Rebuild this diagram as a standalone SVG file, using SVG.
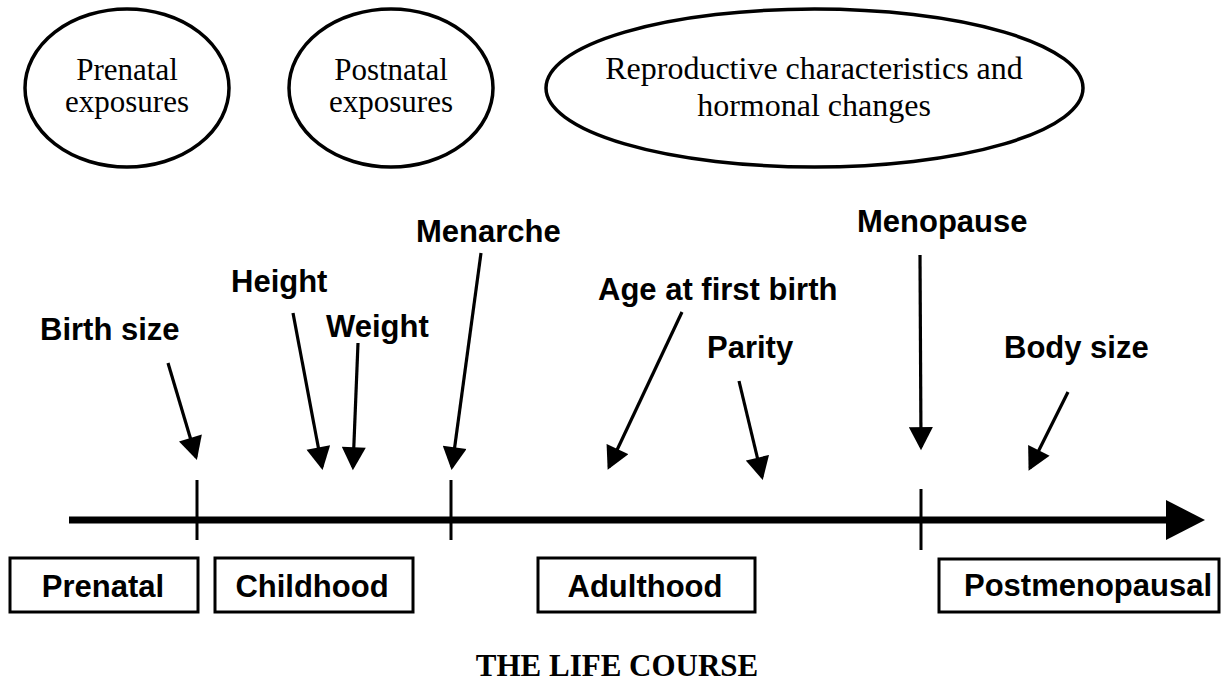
<svg xmlns="http://www.w3.org/2000/svg" width="1224" height="684" viewBox="0 0 1224 684">
<style>
.oval{fill:#fff;stroke:#000;stroke-width:3.5}
.serif{font-family:"Liberation Serif","Times New Roman",serif;font-size:31px;fill:#000;text-anchor:middle}
.lbl{font-family:"Liberation Sans",Arial,sans-serif;font-weight:bold;font-size:31px;fill:#000}
.box{fill:#fff;stroke:#000;stroke-width:3}
.boxt{font-family:"Liberation Sans",Arial,sans-serif;font-weight:bold;font-size:31px;fill:#000;text-anchor:middle}
.arr{stroke:#000;stroke-width:3.2;fill:none;marker-end:url(#ah)}
.tick{stroke:#000;stroke-width:3}
.title{font-family:"Liberation Serif","Times New Roman",serif;font-weight:bold;font-size:31px;fill:#000;text-anchor:middle}
</style>
<defs>
<marker id="ah" markerUnits="userSpaceOnUse" markerWidth="24" markerHeight="24" viewBox="0 0 22 23" refX="19" refY="11.5" orient="auto">
<path d="M0,0 L22,11.5 L0,23 Z" fill="#000"/>
</marker>
</defs>
<rect width="1224" height="684" fill="#fff"/>

<g id="prenatal-exposures">
<ellipse class="oval" cx="127" cy="88" rx="102" ry="79"/>
<text class="serif" x="127" y="80">Prenatal</text>
<text class="serif" x="127" y="112">exposures</text>
</g>
<g id="postnatal-exposures">
<ellipse class="oval" cx="391" cy="88" rx="102" ry="79"/>
<text class="serif" x="391" y="80">Postnatal</text>
<text class="serif" x="391" y="112">exposures</text>
</g>
<g id="reproductive">
<ellipse class="oval" cx="814.5" cy="88" rx="268.5" ry="79"/>
<text class="serif" x="814" y="79" style="font-size:32px">Reproductive characteristics and</text>
<text class="serif" x="814" y="116" style="font-size:32px">hormonal changes</text>
</g>

<g id="timeline">
<line x1="69" y1="520" x2="1168" y2="520" stroke="#000" stroke-width="7"/>
<polygon points="1166,500 1205,520 1166,540" fill="#000"/>
<line class="tick" x1="197" y1="480" x2="197" y2="540"/>
<line class="tick" x1="451" y1="480" x2="451" y2="540"/>
<line class="tick" x1="921" y1="489" x2="921" y2="550"/>
</g>

<g id="labels">
<text class="lbl" x="40" y="340">Birth size</text>
<text class="lbl" x="231" y="292">Height</text>
<text class="lbl" x="326" y="337">Weight</text>
<text class="lbl" x="416" y="242">Menarche</text>
<text class="lbl" x="598" y="300">Age at first birth</text>
<text class="lbl" x="707" y="358">Parity</text>
<text class="lbl" x="857" y="232">Menopause</text>
<text class="lbl" x="1004" y="358">Body size</text>
</g>

<g id="connectors">
<line class="arr" x1="168" y1="363" x2="196" y2="457"/>
<line class="arr" x1="293" y1="313" x2="322" y2="467"/>
<line class="arr" x1="358" y1="343" x2="353" y2="467"/>
<line class="arr" x1="481" y1="253" x2="452" y2="467"/>
<line class="arr" x1="682" y1="312" x2="609" y2="467"/>
<line class="arr" x1="739" y1="381" x2="762" y2="477"/>
<line class="arr" x1="920" y1="255" x2="921" y2="447"/>
<line class="arr" x1="1068" y1="392" x2="1030" y2="468"/>
</g>

<g id="stage-prenatal">
<rect class="box" x="10" y="558" width="188" height="54"/>
<text class="boxt" x="103" y="597">Prenatal</text>
</g>
<g id="stage-childhood">
<rect class="box" x="215" y="558" width="198" height="54"/>
<text class="boxt" x="312" y="597">Childhood</text>
</g>
<g id="stage-adulthood">
<rect class="box" x="538" y="558" width="217" height="54"/>
<text class="boxt" x="645" y="597">Adulthood</text>
</g>
<g id="stage-postmenopausal">
<rect class="box" x="939" y="559" width="280" height="53"/>
<text class="boxt" x="1088" y="596">Postmenopausal</text>
</g>

<g id="title">
<text class="title" x="617" y="676">THE LIFE COURSE</text>
</g>
</svg>
